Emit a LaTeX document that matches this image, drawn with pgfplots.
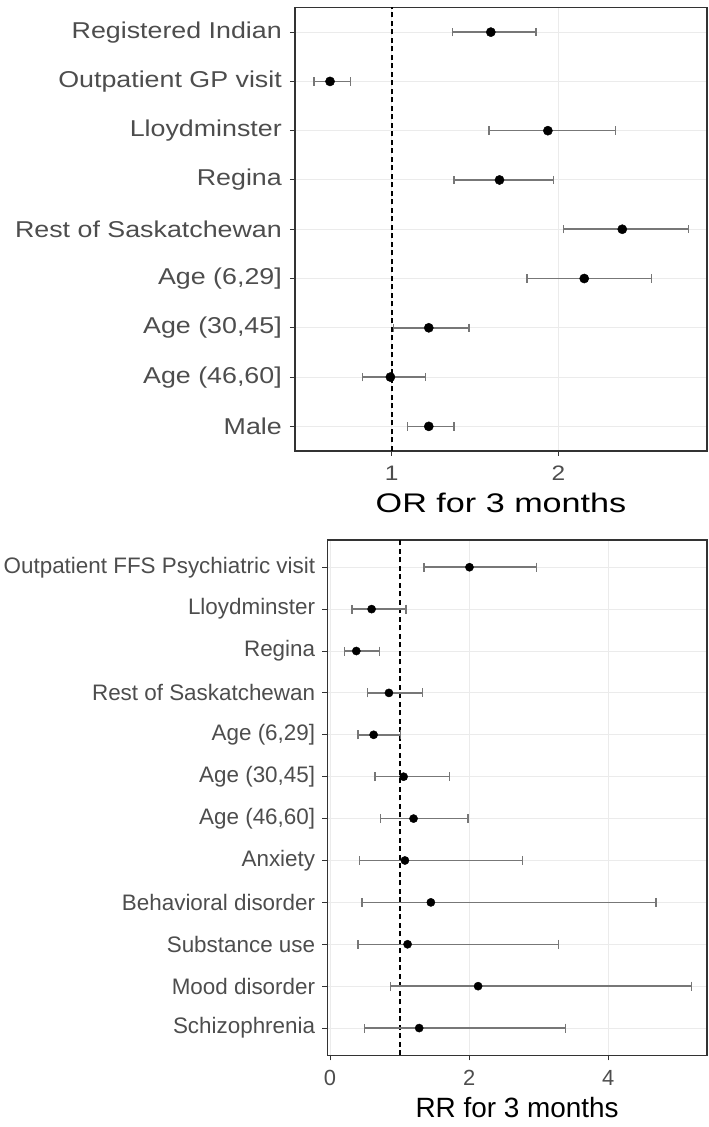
\documentclass[border=0pt]{standalone}
\usepackage{pgfplots}
\usepackage{pgfplotstable}
\pgfplotsset{compat=1.18}
\usepackage{fontspec}
\setmainfont{Liberation Sans}
\newfontfamily\topfont[FakeStretch=1.17]{Liberation Sans}
\newfontfamily\toplabfont[FakeStretch=1.27]{Liberation Sans}
\definecolor{gridc}{HTML}{EBEBEB}
\definecolor{txtc}{HTML}{4D4D4D}
\definecolor{brd}{HTML}{333333}
\definecolor{errc}{HTML}{777777}

\pgfplotstableread{
y x lo hi
9 1.594 1.364 1.864
8 0.630 0.534 0.752
7 1.936 1.582 2.342
6 1.646 1.374 1.970
5 2.382 2.030 2.778
4 2.154 1.812 2.558
3 1.222 1.012 1.462
2 0.992 0.824 1.202
1 1.222 1.094 1.374
}\topdata

\pgfplotstableread{
y x lo hi
12 2.005 1.349 2.971
11 0.598 0.316 1.096
10 0.378 0.211 0.708
9 0.847 0.541 1.330
8 0.627 0.402 1.014
7 1.058 0.646 1.718
6 1.201 0.727 1.986
5 1.077 0.421 2.766
4 1.450 0.459 4.684
3 1.115 0.402 3.283
2 2.129 0.871 5.196
1 1.282 0.498 3.388
}\botdata

\pgfplotsset{fp/.style={
  scale only axis, anchor=south west,
  axis line style={brd, line width=1.2bp},
  tick align=outside, major tick length=5bp,
  tick style={brd, line width=1bp},
  xtick pos=bottom, ytick pos=left,
  grid=major, major grid style={gridc, line width=1bp},
  /pgf/number format/assume math mode=true,
  ticklabel style={text=txtc, inner sep=0pt},
  yticklabel style={anchor=east},
  xticklabel style={anchor=north},
  xlabel style={inner sep=0pt, anchor=north, at={(axis description cs:0.5,0)}},
},
errplot/.style={forget plot, draw=none, mark=none,
  error bars/.cd, x dir=both, x explicit,
  error bar style={draw=errc, line width=1.5bp, solid},
  error mark=|,
  error mark options={draw=errc, line width=1.5bp, mark size=#1, solid}}
}

\begin{document}
\begin{tikzpicture}
\path[use as bounding box] (0,0) rectangle (709bp,1127bp);
% top panel
\begin{axis}[fp,
  at={(295bp,676bp)}, width=412bp, height=443.5bp,
  xmin=0.42, xmax=2.89, ymin=0.5, ymax=9.5,
  xtick={1,2}, ytick={1,...,9},
  yticklabels={Male,{Age (46,60]},{Age (30,45]},{Age (6,29]},Rest of Saskatchewan,Regina,Lloydminster,Outpatient GP visit,Registered Indian},
  yticklabel style={font=\topfont\fontsize{23}{23}\selectfont, xshift=-8bp},
  xticklabel style={font=\topfont\fontsize{21}{21}\selectfont, yshift=-10bp},
  xlabel={OR for 3 months},
  xlabel style={font=\toplabfont\fontsize{27}{27}\selectfont, yshift=-42bp},
]
\addplot[black, line width=1.8bp, dash pattern=on 5bp off 3.5bp] coordinates {(1,0.5) (1,9.5)};
\addplot[errplot=4.2bp]
  table[x=x, y=y, x error plus expr=\thisrow{hi}-\thisrow{x}, x error minus expr=\thisrow{x}-\thisrow{lo}] {\topdata};
\addplot[only marks, mark=*, black, mark size=4.6bp] table[x=x, y=y] {\topdata};
\end{axis}
% bottom panel
\begin{axis}[fp,
  at={(327.3bp,71.7bp)}, width=379.7bp, height=515.3bp,
  xmin=-0.039, xmax=5.42, ymin=0.35, ymax=12.65,
  xtick={0,2,4}, ytick={1,...,12},
  yticklabels={Schizophrenia,Mood disorder,Substance use,Behavioral disorder,Anxiety,{Age (46,60]},{Age (30,45]},{Age (6,29]},Rest of Saskatchewan,Regina,Lloydminster,Outpatient FFS Psychiatric visit},
  yticklabel style={font=\fontsize{22.5}{22.5}\selectfont, xshift=-7bp},
  xticklabel style={font=\fontsize{22}{22}\selectfont, yshift=-10bp},
  xlabel={RR for 3 months},
  xlabel style={font=\fontsize{28}{28}\selectfont, yshift=-42bp},
]
\addplot[black, line width=1.8bp, dash pattern=on 5bp off 3.5bp] coordinates {(1.01,0.35) (1.01,12.65)};
\addplot[errplot=4.5bp]
  table[x=x, y=y, x error plus expr=\thisrow{hi}-\thisrow{x}, x error minus expr=\thisrow{x}-\thisrow{lo}] {\botdata};
\addplot[only marks, mark=*, black, mark size=4.1bp] table[x=x, y=y] {\botdata};
\end{axis}
\end{tikzpicture}
\end{document}
